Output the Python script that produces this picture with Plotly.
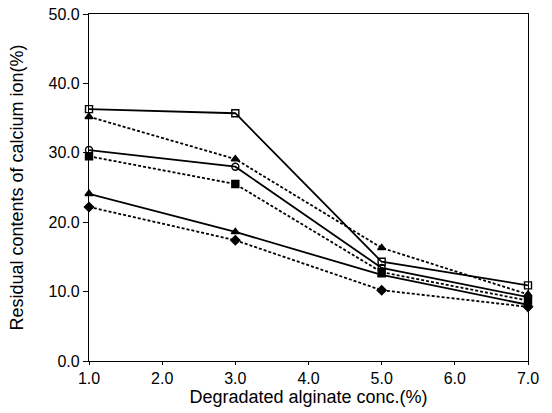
import plotly.graph_objects as go

conc = [1.0, 3.0, 5.0, 7.0]
s_open_square = [36.3, 35.7, 14.3, 10.9]
s_tri_dashed = [35.2, 29.1, 16.3, 9.6]
s_open_circle = [30.4, 28.0, 13.4, 9.2]
s_sq_dashed = [29.5, 25.5, 12.8, 8.7]
s_tri_solid = [24.1, 18.6, 12.4, 8.1]
s_dia_dashed = [22.2, 17.4, 10.2, 7.8]

series = [
    (s_open_square, "solid", "square-open"),
    (s_tri_dashed, "3px,2px", "triangle-up"),
    (s_open_circle, "solid", "circle-open"),
    (s_sq_dashed, "3px,2px", "square"),
    (s_tri_solid, "solid", "triangle-up"),
    (s_dia_dashed, "3px,2px", "diamond"),
]

fig = go.Figure()
for ys, dash, sym in series:
    fig.add_trace(go.Scatter(
        x=conc, y=ys, mode="lines+markers",
        line=dict(color="black", width=1.8, dash=dash),
        marker=dict(symbol=sym, size=7, color="black",
                    line=dict(color="black", width=1.4)),
        showlegend=False, cliponaxis=False))

FONT = "Liberation Sans, Arial, Helvetica"
tickfont = dict(family=FONT, size=16, color="black")
titlefont = dict(family=FONT, size=18, color="black")

fig.update_layout(
    width=552, height=413,
    margin=dict(l=89, r=24, t=14, b=52, autoexpand=False),
    plot_bgcolor="white", paper_bgcolor="white",
    xaxis=dict(range=[1.0, 7.0], dtick=1.0, tickformat=".1f", automargin=False,
               showgrid=False, zeroline=False, showline=True, linecolor="black",
               linewidth=1.2, mirror=True, ticks="outside", ticklen=3,
               tickcolor="black", tickfont=tickfont,
               title=dict(text="Degradated alginate conc.(%)", standoff=1, font=titlefont)),
    yaxis=dict(range=[0, 50], dtick=10, tickformat=".1f", automargin=False,
               showgrid=False, zeroline=False, showline=True, linecolor="black",
               linewidth=1.2, mirror=True, ticks="outside", ticklen=5,
               tickcolor="black", tickfont=tickfont,
               title=dict(text="Residual contents of calcium ion(%)", standoff=20, font=titlefont)),
)

fig.write_html("out.html", config={"displayModeBar": False},
               post_script="document.body.style.margin='0';")
